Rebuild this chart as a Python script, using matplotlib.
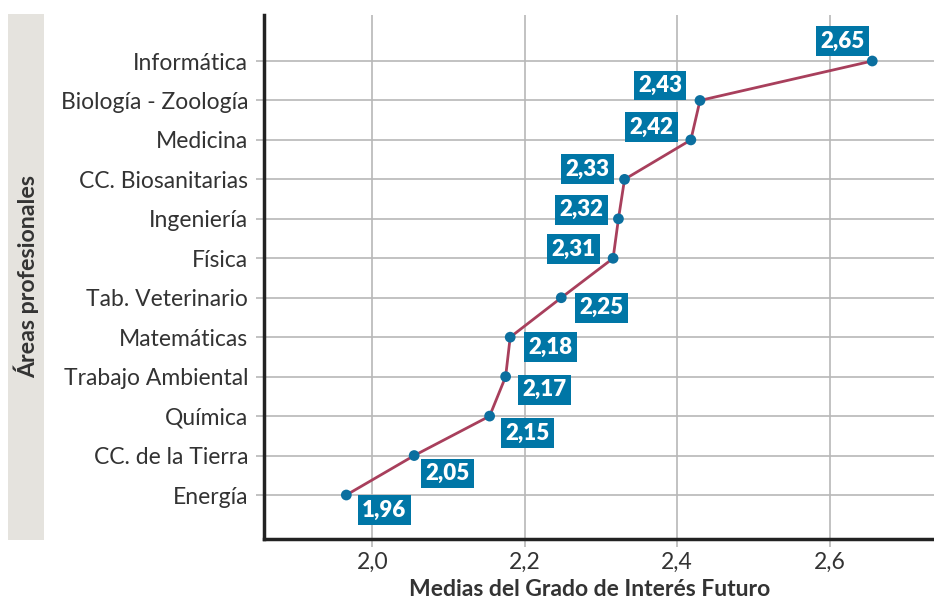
import numpy as np
import matplotlib
matplotlib.use('Agg')
import matplotlib.pyplot as plt
from matplotlib.ticker import FuncFormatter
import matplotlib.patches as patches

plt.rcParams['font.family'] = ['Lato', 'DejaVu Sans']

# Areas from bottom to top
areas = ['Energía', 'CC. de la Tierra', 'Química', 'Trabajo Ambiental',
         'Matemáticas', 'Tab. Veterinario', 'Física', 'Ingeniería',
         'CC. Biosanitarias', 'Medicina', 'Biología - Zoología', 'Informática']
means = [1.966, 2.055, 2.154, 2.175, 2.181, 2.248, 2.316, 2.323,
         2.331, 2.418, 2.430, 2.656]
labels = ['1,96', '2,05', '2,15', '2,17', '2,18', '2,25', '2,31', '2,32',
          '2,33', '2,42', '2,43', '2,65']
x_ticks = [2.0, 2.2, 2.4, 2.6]

# label offsets in pixels (dx, dy), dy positive = up
offsets = [(38, -15), (33, -18), (38, -17), (39, -13), (40, -10), (40, -10),
           (-40, 9), (-37, 9), (-37, 10), (-39, 13), (-40, 15), (-30, 20)]

line_color = '#a83f5c'
dot_color = '#0b6f9f'
box_color = '#0076a6'
grid_color = '#b8b8b8'

fig = plt.figure(figsize=(9.34, 6.03), dpi=100)
ax = fig.add_axes([264 / 934, 1 - 539 / 603, 670 / 934, 524 / 603])

y = np.arange(len(areas))
ax.plot(means, y, color=line_color, lw=2, zorder=3)
ax.scatter(means, y, s=60, color=dot_color, zorder=4, edgecolors='none')

for xv, yv, lab, (dx, dy) in zip(means, y, labels, offsets):
    ax.annotate(lab, (xv, yv), xytext=(dx, dy), textcoords='offset pixels',
                ha='center', va='center', color='white', fontsize=16,
                fontweight='heavy', zorder=5,
                bbox=dict(boxstyle='square,pad=0.2', fc=box_color, ec='none'))

ax.set_xlim(1.858, 2.737)
ax.set_ylim(-1.115, 12.166)
ax.set_yticks(y)
ax.set_yticklabels(areas)
ax.set_xticks(x_ticks)
ax.xaxis.set_major_formatter(FuncFormatter(lambda v, p: f'{v:.1f}'.replace('.', ',')))

ax.grid(True, color=grid_color, lw=1.2)
ax.set_axisbelow(True)
for s in ['top', 'right']:
    ax.spines[s].set_visible(False)
for s in ['left', 'bottom']:
    ax.spines[s].set_color('#222222')
    ax.spines[s].set_linewidth(2.5)

ax.tick_params(axis='both', colors=grid_color, length=5.5, width=1.2,
               labelcolor='#333333', labelsize=16.5)
ax.tick_params(axis='y', pad=6)
ax.tick_params(axis='x', pad=4)

fig.text(590 / 934, 1 - 590 / 603, 'Medias del Grado de Interés Futuro',
         ha='center', va='center', fontsize=16.5, fontweight='bold', color='#333333')

# side band with the y title
fig.patches.append(patches.Rectangle((8 / 934, 1 - 540 / 603), 36 / 934, 526 / 603,
                                     transform=fig.transFigure, fc='#e5e3de',
                                     ec='none', zorder=0))
fig.text(26 / 934, 1 - 276 / 603, 'Áreas profesionales', rotation=90,
         ha='center', va='center', fontsize=16.7, fontweight='bold', color='#333333')

fig.savefig('out.png', dpi=100)
